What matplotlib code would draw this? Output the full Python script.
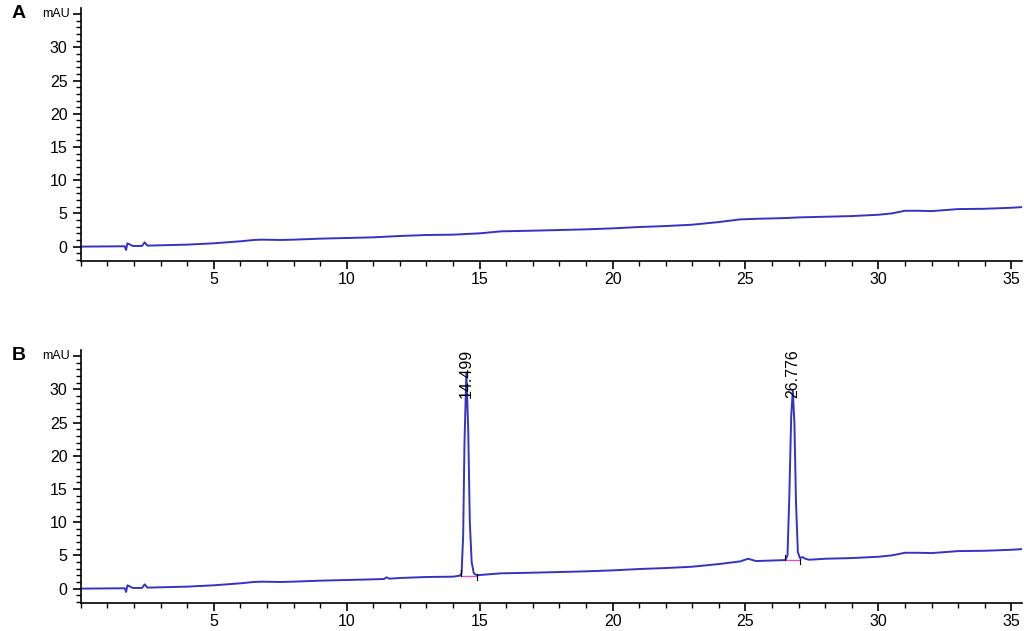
import matplotlib.pyplot as plt
from matplotlib.ticker import MultipleLocator, FixedLocator

plt.rcParams['font.family'] = ['Liberation Sans', 'DejaVu Sans']

# Panel A trace: retention time (min) and absorbance (mAU)
time_a = [0, 1.5, 1.65, 1.7, 1.75, 1.85, 1.95, 2.3, 2.4, 2.5, 3, 4, 5, 6, 6.5, 6.8,
          7.5, 8, 9, 10, 11, 12, 13, 14, 15, 15.8, 17, 18, 19, 20, 21, 22, 23, 24,
          24.8, 25.5, 26.5, 27, 28, 29, 30, 30.5, 31, 31.5, 32, 33, 34, 35, 35.4]
mau_a = [0, 0.05, 0.05, -0.5, 0.5, 0.3, 0.1, 0.1, 0.65, 0.15, 0.2, 0.3, 0.5, 0.8,
         1.0, 1.05, 1.0, 1.05, 1.2, 1.3, 1.4, 1.6, 1.75, 1.8, 2.0, 2.3, 2.4, 2.5,
         2.6, 2.75, 2.95, 3.1, 3.3, 3.7, 4.1, 4.2, 4.3, 4.4, 4.5, 4.6, 4.8, 5.0,
         5.4, 5.4, 5.35, 5.65, 5.7, 5.85, 5.95]

# Panel B trace with two peaks
time_b = [0, 1.5, 1.65, 1.7, 1.75, 1.85, 1.95, 2.3, 2.4, 2.5, 3, 4, 5, 6, 6.5, 6.8,
          7.5, 8, 9, 10, 11, 11.4, 11.5, 11.6, 12, 13, 14, 14.25, 14.32, 14.38, 14.43,
          14.5, 14.57, 14.63, 14.7, 14.78, 14.9, 15, 15.8, 17, 18, 19, 20, 21,
          22, 23, 24, 24.8, 25.1, 25.4, 26.5, 26.58, 26.65, 26.72, 26.78, 26.84, 26.9,
          26.97, 27.05, 27.15, 27.25, 27.4, 28, 29, 30, 30.5, 31, 31.5, 32, 33, 34, 35,
          35.4]
mau_b = [0, 0.05, 0.05, -0.5, 0.5, 0.3, 0.1, 0.1, 0.65, 0.15, 0.2, 0.3, 0.5, 0.8,
         1.0, 1.05, 1.0, 1.05, 1.2, 1.3, 1.4, 1.45, 1.7, 1.5, 1.6, 1.75, 1.8, 1.95,
         2.3, 8.0, 22.0, 32.5, 24.0, 10.0, 4.0, 2.3, 2.0, 2.05, 2.3, 2.4, 2.5,
         2.6, 2.75, 2.95, 3.1, 3.3, 3.7, 4.1, 4.5, 4.15, 4.3, 5.0, 14.0, 26.0, 29.8,
         25.0, 13.0, 5.5, 4.6, 4.75, 4.5, 4.35, 4.5, 4.6, 4.8, 5.0, 5.4, 5.4, 5.35,
         5.65, 5.7, 5.85, 5.95]

peak_times = [14.499, 26.776]
peak_labels = ['14.499', '26.776']
# integration baselines (start, end, level)
base_start = [14.3, 26.5]
base_end = [14.9, 27.05]
base_level = [1.95, 4.3]

fig = plt.figure(figsize=(10.24, 6.31), dpi=100)
ax_a = fig.add_axes([0.079, 0.586, 0.919, 0.401])
ax_b = fig.add_axes([0.079, 0.044, 0.919, 0.401])

line_color = '#3434c4'
ax_a.plot(time_a, mau_a, color=line_color, lw=1.4)
ax_b.plot(time_b, mau_b, color=line_color, lw=1.4)

for s, e, lv in zip(base_start, base_end, base_level):
    ax_b.plot([s, e], [lv, lv], color='#e050c8', lw=1.0)
    ax_b.plot([s, s], [lv, lv + 0.8], color='black', lw=0.8)
    ax_b.plot([e, e], [lv - 0.6, lv + 0.2], color='black', lw=0.8)

for t, lab in zip(peak_times, peak_labels):
    ax_b.text(t, 36.1, lab, rotation=90, ha='center', va='top', fontsize=11.5)

for ax, letter in [(ax_a, 'A'), (ax_b, 'B')]:
    ax.set_xlim(0, 35.4)
    ax.set_ylim(-2.2, 35.9)
    for side in ['top', 'right']:
        ax.spines[side].set_visible(False)
    ax.spines['left'].set_linewidth(1.2)
    ax.spines['bottom'].set_linewidth(1.2)
    ax.xaxis.set_major_locator(FixedLocator([5, 10, 15, 20, 25, 30, 35]))
    ax.xaxis.set_minor_locator(MultipleLocator(1))
    ax.yaxis.set_major_locator(FixedLocator([0, 5, 10, 15, 20, 25, 30, 35]))
    ax.yaxis.set_minor_locator(MultipleLocator(1))
    ax.set_yticklabels(['0', '5', '10', '15', '20', '25', '30', ''])
    ax.tick_params(axis='both', which='major', length=6, width=1.2, labelsize=11.5)
    ax.tick_params(axis='both', which='minor', length=3.5, width=1.0)
    ax.tick_params(axis='x', pad=2)
    ax.text(-0.012, 35, 'mAU', transform=ax.get_yaxis_transform(), ha='right',
            va='center', fontsize=9)
    ax.text(-0.066, 0.98, letter, transform=ax.transAxes, ha='center', va='center',
            fontsize=14, fontweight='bold')

fig.savefig('out.png', dpi=100)
